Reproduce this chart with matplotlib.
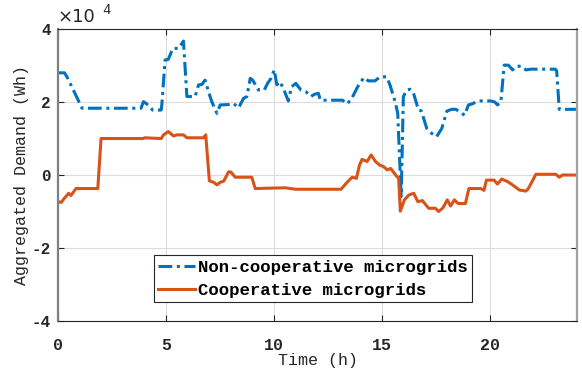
import matplotlib.pyplot as plt
import numpy as np

plt.rcParams['font.family'] = ['Liberation Mono', 'DejaVu Sans Mono']
plt.rcParams['font.weight'] = 'bold'
plt.rcParams['axes.unicode_minus'] = False

# non-cooperative demand (x1e4 Wh)
t_nc = [0.0, 0.3, 0.45, 1.11, 3.84, 3.95, 4.1, 4.38, 4.77, 4.8, 4.95, 5.1, 5.31, 5.57, 5.8,
        5.96, 6.34, 6.5, 6.65, 6.8, 6.96, 7.11, 7.35, 7.5, 7.89, 8.12, 8.35, 8.58, 8.73, 8.89,
        9.0, 9.27, 9.54, 9.69, 9.85, 10.0, 10.12, 10.23, 10.39, 10.65, 10.8, 11.0, 11.23, 11.47,
        11.7, 11.85, 12.04, 12.13, 13.16, 13.36, 13.55, 13.86, 14.14, 14.35, 14.66, 14.89, 15.2,
        15.35, 15.59, 15.71, 15.87, 15.97, 16.13, 16.28, 16.44, 16.67, 16.8, 17.05, 17.28, 17.51,
        17.75, 17.98, 18.2, 18.4, 18.6, 18.8, 18.98, 19.2, 19.3, 19.48, 20.0, 20.2, 20.32, 20.48,
        20.63, 20.83, 21.02, 21.2, 21.45, 21.64, 21.87, 23.0, 23.06, 23.18, 24.0]
v_nc = [2.8, 2.8, 2.65, 1.83, 1.83, 2.01, 1.95, 1.78, 1.78, 1.92, 3.15, 3.17, 3.47, 3.47, 3.67,
        2.15, 2.15, 2.47, 2.48, 2.6, 2.28, 2.01, 1.69, 1.92, 1.93, 1.96, 1.84, 2.1, 2.15, 2.65,
        2.6, 2.33, 2.33, 2.51, 2.65, 2.88, 2.47, 2.56, 2.42, 2.03, 2.42, 2.51, 2.33, 2.28,
        2.15, 2.21, 2.24, 2.05, 2.05, 1.95, 2.06, 2.42, 2.67, 2.58, 2.58, 2.69, 2.69,
        2.47, 2.01, 1.69, -0.59, 2.15, 2.33, 2.35, 2.24, 1.78, 1.76, 1.28, 1.14, 1.05,
        1.28, 1.75, 1.8, 1.8, 1.72, 1.64, 1.92, 1.96, 2.0, 2.03, 2.03, 2.0, 1.92, 2.0,
        3.01, 3.01, 2.88, 2.98, 2.98, 2.88, 2.9, 2.9, 2.85, 1.8, 1.8]

# cooperative demand (x1e4 Wh)
t_co = [0.0, 0.15, 0.29, 0.49, 0.6, 0.83, 1.84, 1.99, 3.95, 4.0, 4.77, 4.88, 5.1, 5.34, 5.5,
        5.8, 5.96, 6.73, 6.83, 7.0, 7.2, 7.35, 7.5, 7.66, 7.89, 8.0, 8.19, 8.96, 9.12, 10.5,
        11.0, 13.09, 13.32, 13.6, 13.8, 13.94, 14.06, 14.29, 14.48, 14.68, 14.88, 15.06, 15.22,
        15.38, 15.68, 15.75, 15.83, 16.02, 16.22, 16.45, 16.64, 16.85, 17.14, 17.45, 17.6, 17.8,
        18.0, 18.15, 18.33, 18.5, 18.84, 19.0, 19.55, 19.7, 19.81, 20.17, 20.32, 20.52, 20.79,
        21.02, 21.33, 21.64, 21.75, 22.1, 23.02, 23.18, 23.33, 24.0]
v_co = [-0.73, -0.75, -0.64, -0.5, -0.56, -0.37, -0.37, 1.0, 1.0, 1.02, 1.0, 1.1, 1.19, 1.07, 1.1,
        1.1, 1.02, 1.02, 1.1, -0.16, -0.2, -0.27, -0.2, -0.17, 0.09, 0.08, -0.06, -0.06, -0.37, -0.35,
        -0.39, -0.39, -0.23, -0.06, -0.09, 0.27, 0.43, 0.37, 0.55, 0.37, 0.27, 0.23, 0.14,
        0.18, -0.05, -0.08, -0.99, -0.68, -0.55, -0.5, -0.73, -0.7, -0.91, -0.91, -1.0, -0.9,
        -0.68, -0.85, -0.68, -0.78, -0.78, -0.37, -0.37, -0.42, -0.14, -0.14, -0.25, -0.11, -0.18,
        -0.27, -0.41, -0.44, -0.37, 0.02, 0.02, -0.06, 0.0, 0.0]

fig = plt.figure(figsize=(5.82, 3.72), dpi=100)
ax = fig.add_axes([0.0997, 0.137, 0.8917, 0.785])

ax.plot(t_nc, np.array(v_nc) * 1e4, color='#0072BD', lw=2.2,
        linestyle=(0, (4.5, 1.5, 1, 1.5)), label='Non-cooperative microgrids')
ax.plot(t_co, np.array(v_co) * 1e4, color='#D95319', lw=2.2, label='Cooperative microgrids')

ax.set_xlim(0, 24)
ax.set_ylim(-4e4, 4e4)
ax.set_xticks([0, 5, 10, 15, 20])
ax.set_yticks([-4e4, -2e4, 0, 2e4, 4e4])
ax.set_yticklabels(['-4', '-2', '0', '2', '4'])
ax.tick_params(direction='in', top=True, right=True, labelsize=12, colors='#262626',
               length=4)
ax.tick_params(axis='x', pad=12)
ax.tick_params(axis='y', pad=5, labelsize=11.5)
ax.grid(True, color='#dcdcdc', lw=0.8)
for s in ax.spines.values():
    s.set_color('#262626')
    s.set_linewidth(0.8)
ax.spines['left'].set_color('#808080')
ax.spines['left'].set_linewidth(1.6)
ax.spines['right'].set_color('#a0a0a0')
ax.spines['right'].set_linewidth(1.6)

ax.set_xlabel('Time (h)', fontsize=12, color='#262626', labelpad=0)
ax.set_ylabel('Aggregated Demand (Wh)', fontsize=12, color='#262626', labelpad=2)

ax.text(0.0, 1.012, '×10', transform=ax.transAxes, fontsize=13, fontweight='normal',
        color='#262626', family='DejaVu Sans', va='bottom')
ax.text(0.085, 1.04, '4', transform=ax.transAxes, fontsize=10, fontweight='normal',
        color='#262626', va='bottom')

leg = ax.legend(loc='lower left', bbox_to_anchor=(0.185, 0.065), fontsize=12.5,
                frameon=True, fancybox=False, edgecolor='#262626', framealpha=1,
                handlelength=2.1, handletextpad=0.2, borderpad=0.25, labelspacing=0.45,
                borderaxespad=0)
leg.get_frame().set_linewidth(0.8)

fig.savefig('out.png', dpi=100)
